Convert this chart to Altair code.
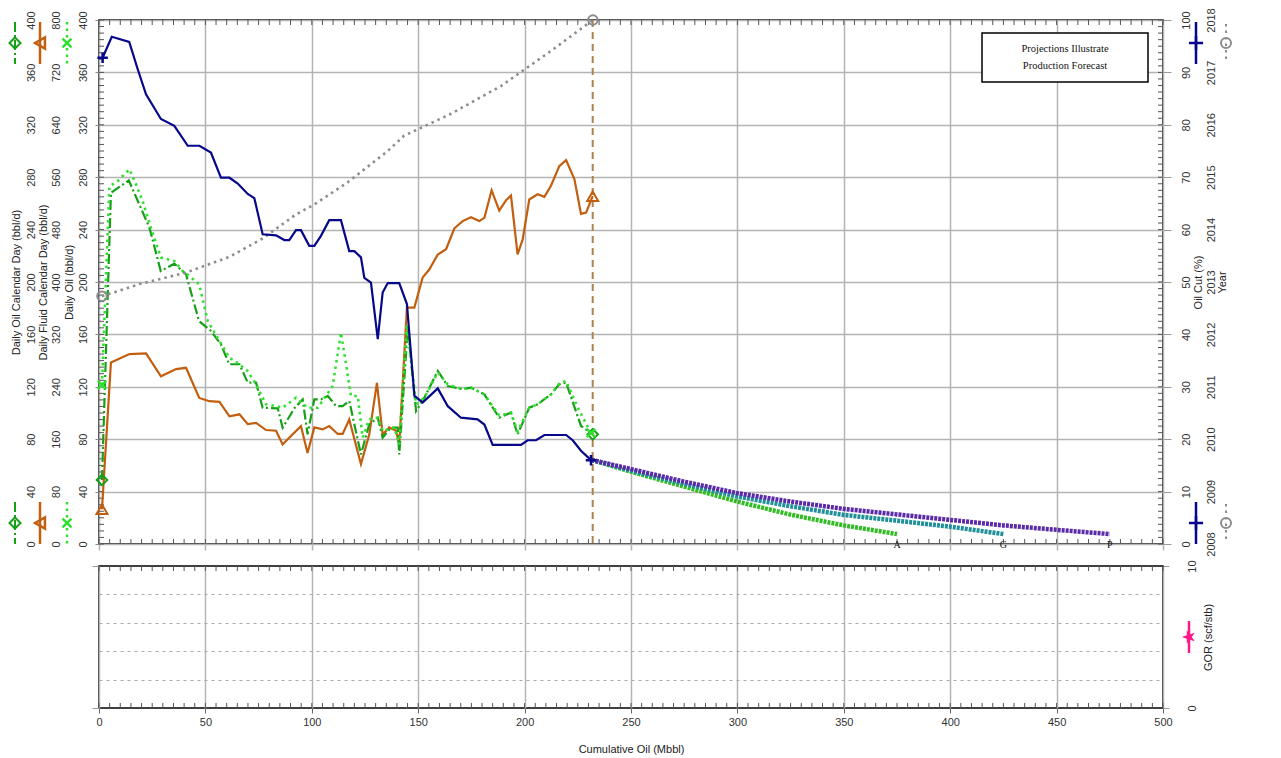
import altair as alt
import pandas as pd

# ---------------- values ----------------
# Daily Oil Calendar Day (bbl/d)  -- green dash-dot, left scale 0-400
cal_x = [1.4, 5.6, 14.0, 19.0, 23.7, 29.0, 35.4, 40.9, 47.0, 52.6, 57.3, 61.2, 66.0, 69.9, 73.8,
         76.9, 84.0, 86.3, 92.0, 95.7, 98.0, 101.2, 104.3, 107.5, 111.4, 114.5, 117.6, 123.1, 127.0,
         131.0, 133.3, 137.2, 140.4, 141.1, 145.1, 149.0, 152.9, 159.2, 163.9, 170.9, 174.8, 181.1,
         188.1, 193.6, 196.7, 202.2, 206.1, 212.4, 216.3, 219.5, 226.5, 232.0]
cal_y = [48.9, 268, 277.6, 259, 241.5, 208.4, 214, 205.9, 170.2, 162.6, 152.4, 137.2, 137.2, 123.2, 123.2,
         104, 103.6, 88.8, 104, 110.4, 83.7, 110.4, 110.4, 113, 105.3, 105.3, 109.2, 68.4, 91.3,
         96.4, 81.2, 88.8, 88.8, 68.4, 165.1, 101.5, 111.7, 132.1, 120.6, 118.1, 119.3, 114.2,
         96.4, 100.3, 83.7, 104.1, 106.6, 114.2, 121.9, 123.2, 90.1, 83.7]

# Daily Oil (bbl/d) -- bright green dotted, 0-400
oil_x = [1.4, 4.9, 8.8, 14.3, 17.4, 20.5, 24.4, 29.1, 35.4, 39.3, 42.4, 47.1, 51.1, 56.6, 61.3,
         66.0, 69.9, 73.8, 78.5, 83.2, 86.3, 92.6, 98.0, 102.8, 109.8, 113.7, 116.1, 118.4, 121.6,
         123.9, 127.0, 131.0, 133.3, 138.8, 141.1, 144.7, 149.0, 152.9, 159.2, 163.9, 170.9, 174.8,
         181.1, 188.1, 193.6, 196.7, 202.2, 206.1, 212.4, 216.3, 219.5, 225.0, 231.2]
oil_y = [121.4, 273, 277, 286, 274.6, 261.8, 241.5, 218.6, 216, 208.4, 204.6, 198.2, 170.2, 155, 142.2,
         137.2, 132, 121.9, 106.6, 105.3, 104, 111.7, 104, 104, 120.6, 161.3, 137.2, 113, 113,
         81.2, 95.2, 96.4, 86.3, 88.8, 76, 167.7, 106.6, 111.7, 130.8, 121.9, 118.1, 119.3,
         114.2, 98, 100.3, 86, 104.1, 106.6, 114.2, 122.5, 124.5, 104, 84.7]

# Daily Fluid Calendar Day (bbl/d) -- orange, 0-800
fluid_x = [1.4, 5.6, 14.3, 22.1, 29.1, 36.2, 40.9, 47.1, 51.9, 56.6, 61.3, 66.0, 69.9, 73.8, 78.5,
           83.2, 86.3, 90.2, 94.9, 98.0, 101.2, 105.1, 108.2, 112.2, 114.5, 117.6, 123.1, 127.0, 130.6,
           133.3, 136.4, 139.6, 141.1, 144.7, 148.2, 152.1, 155.2, 159.2, 163.1, 167.0, 170.9, 174.8,
           178.7, 181.1, 184.5, 188.1, 191.3, 193.6, 196.7, 199.1, 202.2, 206.1, 209.3, 212.4, 216.3,
           219.5, 223.4, 226.5, 228.9, 232.0]
fluid_y = [53, 277, 290, 291, 256, 267, 269, 223, 218, 217, 195, 198, 183, 185, 174,
           173, 152, 165, 180, 139, 178, 175, 180, 168, 168, 190, 122, 167, 246,
           167, 178, 173, 152, 361, 361, 407, 419, 442, 450, 482, 493, 499,
           493, 498, 540, 509, 525, 532, 442, 465, 526, 534, 530, 547, 577,
           586, 557, 504, 506, 531]

# Oil Cut (%) -- navy, right 0-100
cut_x = [1.7, 6.0, 14.2, 18.2, 22.1, 29.1, 35.4, 41.7, 47.2, 52.6, 57.3, 61.3, 65.2, 69.9, 73.0,
         76.9, 83.2, 87.1, 89.4, 92.6, 94.9, 98.8, 101.2, 104.3, 108.2, 113.7, 117.6, 120.0, 123.1,
         124.7, 127.8, 131.0, 133.3, 135.7, 141.1, 144.7, 148.2, 152.1, 159.2, 163.9, 170.1, 177.9,
         181.1, 185.0, 198.3, 201.4, 205.4, 209.3, 219.5, 222.6, 226.5, 231.2]
cut_y = [92.8, 96.8, 95.8, 90.6, 85.8, 81.1, 79.8, 76.0, 76.0, 74.7, 69.9, 69.9, 68.8, 66.8, 66.0,
         59.1, 58.9, 58.0, 58.0, 59.9, 59.9, 56.9, 56.9, 58.8, 61.8, 61.8, 55.9, 55.9, 54.7,
         50.8, 49.9, 39.1, 48.0, 49.8, 49.8, 45.8, 28.3, 27.0, 29.7, 26.3, 24.1, 23.8,
         22.8, 18.9, 18.9, 19.8, 19.8, 20.8, 20.8, 19.8, 17.8, 16.0]

# Year -- gray dotted, right 2008-2018
year_x = [1.4, 19.0, 40.9, 61.3, 76.9, 92.6, 101.2, 116.8, 135.7, 143.3, 165.4, 188.9, 212.4, 232.1]
year_y = [2012.73, 2012.96, 2013.18, 2013.48, 2013.83, 2014.29, 2014.48, 2014.90, 2015.50,
          2015.79, 2016.21, 2016.74, 2017.41, 2018.00]

# Forecast cases (oil cut %)
fc_A_x = [231.5, 250, 275, 300, 325, 350, 375]
fc_A_y = [16.05, 13.8, 10.95, 8.1, 5.6, 3.55, 1.9]
fc_G_x = [231.5, 250, 275, 300, 325, 350, 375, 400, 425]
fc_G_y = [16.05, 14.0, 11.5, 9.05, 7.2, 5.55, 4.45, 3.3, 1.9]
fc_P_x = [231.5, 250, 275, 300, 325, 350, 375, 400, 425, 450, 475]
fc_P_y = [16.05, 14.3, 11.9, 9.7, 8.1, 6.7, 5.65, 4.6, 3.55, 2.7, 1.9]
fc_names = ["A", "G", "P"]

history_end = [232.0]
note_lines = ["Projections Illustrate", "Production Forecast"]

x_ticks = list(range(0, 501, 50))
x_minor = list(range(0, 501, 5))
y_minor = list(range(0, 401, 5))

# ---------------- styling ----------------
W, H, H2 = 1064, 524, 142
GRID = "#b4b4b4"
NAVY = "#07078a"
ORANGE = "#c25e0e"
GREEN = "#17a017"
LIME = "#30e030"
GRAY = "#8c8c8c"
BROWN = "#b5804f"
FC_COL = {"A": "#33bb26", "G": "#1f8f98", "P": "#5b2aa8"}
PINK = "#ff1a8c"
XSHAPE = "M-1,-1L1,1M-1,1L1,-1"
PLUS = "M-1,0L1,0M0,-1L0,1"
STAR = ("M-1,0L-0.324,-0.235L-0.309,-0.951L0.124,-0.38L0.809,-0.588L0.4,0"
        "L0.809,0.588L0.124,0.38L-0.309,0.951L-0.324,0.235Z")


def df(xs, ys):
    assert len(xs) == len(ys)
    return pd.DataFrame({"x": xs, "y": ys})


one = pd.DataFrame({"k": [0]})

xs_scale = alt.Scale(domain=[0, 500], nice=False, zero=False)
x_axis_top = alt.Axis(values=x_ticks, grid=True, gridColor=GRID, gridWidth=1.5, labels=False,
                      ticks=True, tickSize=6, tickColor=GRID, tickWidth=1.5, domain=False, title=None)


def XT():
    return alt.X("x:Q", scale=xs_scale, axis=x_axis_top)


sc_cal = alt.Scale(domain=[0, 400], nice=False, zero=False)
sc_fluid = alt.Scale(domain=[0, 800], nice=False, zero=False)
sc_oil = alt.Scale(domain=[0, 400], nice=False, zero=False)
sc_cut = alt.Scale(domain=[0, 100], nice=False, zero=False)
sc_year = alt.Scale(domain=[2008, 2018], nice=False, zero=False)

rot = dict(labelAngle=270, labelAlign="center", labelBaseline="middle", titleAngle=270,
           titleAlign="center", titleBaseline="middle", labelFlush=False, labelOverlap=False,
           domain=False)

ax_cal = alt.Axis(orient="left", values=list(range(0, 401, 40)), ticks=False, tickSize=0,
                  labelPadding=68, grid=False, title="Daily Oil Calendar Day (bbl/d)", titleX=-83, **rot)
ax_fluid = alt.Axis(orient="left", values=list(range(0, 801, 80)), ticks=False, tickSize=0,
                    labelPadding=43, grid=False, title="Daily Fluid Calendar Day (bbl/d)", titleX=-56, **rot)
ax_oil = alt.Axis(orient="left", values=list(range(0, 401, 40)), ticks=True, tickSize=4,
                  tickColor="#888888", labelPadding=12, grid=True, gridColor=GRID, gridWidth=1.5,
                  title="Daily Oil (bbl/d)", titleX=-30, **rot)
ax_cut = alt.Axis(orient="right", values=list(range(0, 101, 10)), ticks=True, tickSize=8,
                  tickColor="#999999", labelPadding=15, grid=False, title="Oil Cut (%)", titleX=35, **rot)
ax_year = alt.Axis(orient="right", values=list(range(2008, 2019)), format="d", ticks=False, tickSize=0,
                   labelPadding=48, grid=False, title="Year", titleX=59, **rot)


def line(data, scale, axis, color, width=2, dash=None):
    kw = dict(color=color, strokeWidth=width)
    if dash is not None:
        kw["strokeDash"] = dash
    return alt.Chart(data).mark_line(**kw).encode(
        x=XT(), y=alt.Y("y:Q", scale=scale, axis=axis))


def ends(data, scale, shape, color, size=90, width=2):
    return alt.Chart(data.iloc[[0, -1]]).mark_point(
        shape=shape, color=color, size=size, filled=False, strokeWidth=width, opacity=1).encode(
        x=XT(), y=alt.Y("y:Q", scale=scale, axis=None))


def glyph(px, py, color, shape, dash=None, width=2, size=90, half=21, filled=False):
    kw = dict(color=color, strokeWidth=width)
    if dash is not None:
        kw["strokeDash"] = dash
    r = alt.Chart(one).mark_rule(**kw).encode(
        x=alt.value(px), y=alt.value(py - half), y2=alt.value(py + half))
    p = alt.Chart(one).mark_point(shape=shape, color=color, size=size, filled=filled,
                                  strokeWidth=width, opacity=1).encode(
        x=alt.value(px), y=alt.value(py))
    return [r, p]


d_cal, d_oil, d_fluid = df(cal_x, cal_y), df(oil_x, oil_y), df(fluid_x, fluid_y)
d_cut, d_year = df(cut_x, cut_y), df(year_x, year_y)
fc = {"A": df(fc_A_x, fc_A_y), "G": df(fc_G_x, fc_G_y), "P": df(fc_P_x, fc_P_y)}

TICK = "#555555"
mx = pd.DataFrame({"x": x_minor})
my = pd.DataFrame({"y": y_minor})

top_layers = [
    alt.Chart(mx).mark_rule(color=TICK, strokeWidth=1).encode(x=XT(), y=alt.value(0), y2=alt.value(5)),
    alt.Chart(mx).mark_rule(color=TICK, strokeWidth=1).encode(x=XT(), y=alt.value(H), y2=alt.value(H - 5)),
    alt.Chart(my).mark_rule(color=TICK, strokeWidth=1).encode(
        y=alt.Y("y:Q", scale=sc_oil, axis=None), x=alt.value(0), x2=alt.value(5)),
    alt.Chart(my).mark_rule(color=TICK, strokeWidth=1).encode(
        y=alt.Y("y:Q", scale=sc_oil, axis=None), x=alt.value(W), x2=alt.value(W - 5)),
    alt.Chart(pd.DataFrame({"x": history_end})).mark_rule(
        color=BROWN, strokeWidth=2, strokeDash=[7, 5]).encode(x=XT()),
    line(d_fluid, sc_fluid, ax_fluid, ORANGE, 2.2),
    line(d_cal, sc_cal, ax_cal, GREEN, 2.2, [10, 3, 2, 3]),
    line(d_oil, sc_oil, ax_oil, LIME, 2.6, [2.5, 4]),
    line(d_year, sc_year, ax_year, GRAY, 2.6, [2.5, 4]),
    line(d_cut, sc_cut, ax_cut, NAVY, 2.2),
]
for name in fc_names:
    top_layers.append(line(fc[name], sc_cut, None, FC_COL[name], 4.5, [3, 1]))
top_layers += [
    ends(d_fluid, sc_fluid, "triangle-up", ORANGE, 120),
    ends(d_cal, sc_cal, "diamond", GREEN, 110),
    ends(d_oil, sc_oil, XSHAPE, LIME, 70, 2.5),
    ends(d_year, sc_year, "circle", GRAY, 90),
    ends(d_cut, sc_cut, PLUS, NAVY, 110, 2.5),
]
ends_df = pd.DataFrame({"x": [fc[n]["x"].iloc[-1] for n in fc_names], "label": fc_names})
top_layers.append(alt.Chart(ends_df).mark_text(
    font="Liberation Serif", fontSize=10, color="#111", baseline="middle", align="center").encode(
    x=XT(), y=alt.value(H + 1), text="label:N"))
# annotation box
top_layers.append(alt.Chart(one).mark_rect(fill="white", stroke="black", strokeWidth=1.5).encode(
    x=alt.value(883), x2=alt.value(1049), y=alt.value(13), y2=alt.value(62)))
for i, t in enumerate(note_lines):
    top_layers.append(alt.Chart(one).mark_text(
        text=t, font="Liberation Serif", fontSize=10.5, color="#111", align="center",
        baseline="middle").encode(x=alt.value(966), y=alt.value(28.5 + 17.5 * i)))
# axis legend glyphs
for py in (23, 503):
    top_layers += glyph(-84, py, GREEN, "diamond", [10, 3, 2, 3], 2, 120)
    top_layers += glyph(-59, py, ORANGE, "triangle-left", None, 2.5, 130)
    top_layers += glyph(-32, py, LIME, XSHAPE, [2.5, 4], 2.5, 80)
    top_layers += glyph(1097, py, NAVY, PLUS, None, 2.5, 200)
    top_layers += glyph(1127, py, GRAY, "circle", [2.5, 4], 2, 100, 19)

top = alt.layer(*top_layers).resolve_scale(y="independent").properties(width=W, height=H)

# ---------------- bottom panel (GOR) ----------------
sc_gor = alt.Scale(domain=[0, 10], nice=False, zero=False)
x_axis_bot = alt.Axis(values=x_ticks, grid=True, gridColor=GRID, gridWidth=1.5, ticks=True, tickSize=5,
                      tickColor="#666666", domain=False, labelPadding=3, labelFlush=False,
                      title="Cumulative Oil (Mbbl)", titlePadding=16)


def XB():
    return alt.X("x:Q", scale=xs_scale, axis=x_axis_bot)


gor_axis_vals = pd.DataFrame({"y": [0, 10]})
ax_gor_left = alt.Axis(orient="left", values=[2, 4, 6, 8], grid=True, gridColor="#aaaaaa",
                       gridDash=[3, 4], gridWidth=1, labels=False, ticks=False, domain=False, title=None)
ax_gor_left_ticks = alt.Axis(orient="left", values=[0, 10], grid=False, labels=False, ticks=True,
                             tickSize=7, tickColor="#999999", domain=False, title=None)
ax_gor_right = alt.Axis(orient="right", values=[0, 10], tickSize=6, tickColor="#999999",
                        labelPadding=23, grid=False, title="GOR (scf/stb)", titleX=45, **rot)

bot_layers = [
    alt.Chart(mx).mark_rule(color=TICK, strokeWidth=1).encode(x=XB(), y=alt.value(H2), y2=alt.value(H2 - 5)),
    alt.Chart(mx).mark_rule(color=TICK, strokeWidth=1).encode(x=XB(), y=alt.value(0), y2=alt.value(5)),
    alt.Chart(gor_axis_vals).mark_point(opacity=0).encode(
        x=alt.value(0), y=alt.Y("y:Q", scale=sc_gor, axis=ax_gor_left)),
    alt.Chart(gor_axis_vals).mark_point(opacity=0).encode(
        x=alt.value(0), y=alt.Y("y:Q", scale=sc_gor, axis=ax_gor_left_ticks)),
    alt.Chart(gor_axis_vals).mark_point(opacity=0).encode(
        x=alt.value(0), y=alt.Y("y:Q", scale=sc_gor, axis=ax_gor_right)),
]
bot_layers += glyph(1090, 71, PINK, STAR, None, 2.5, 200, 16, True)

bottom = alt.layer(*bot_layers).resolve_scale(y="independent").properties(width=W, height=H2)

chart = alt.vconcat(top, bottom, spacing=22, bounds="flush").properties(
    padding={"left": -4, "top": -1, "right": 5, "bottom": 0}, background="white"
).configure_view(stroke="black", strokeWidth=1.5).configure_axis(
    labelFont="Liberation Sans", labelFontSize=11, labelColor="#333333",
    titleFont="Liberation Sans", titleFontSize=11, titleFontWeight="normal", titleColor="#222222")

chart.save("out.html", embed_options={"renderer": "svg", "actions": False})
